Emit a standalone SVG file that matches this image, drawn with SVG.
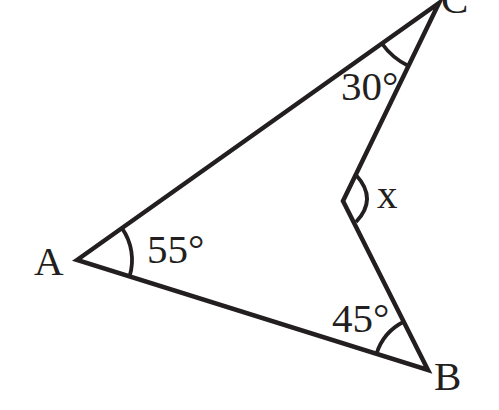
<svg xmlns="http://www.w3.org/2000/svg" width="499" height="410" viewBox="0 0 499 410">
<style>
.edge{fill:none;stroke:#231f20;stroke-width:4.5;stroke-linejoin:miter;stroke-miterlimit:20}
.arc{fill:none;stroke:#231f20;stroke-width:3.8}
.lbl{font-family:"Liberation Serif","Times New Roman",serif;font-size:41px;fill:#231f20}
</style>
<rect width="499" height="410" fill="#ffffff"/>
<g id="connectors">
<path class="edge" d="M77,260 L439,3 L343,201 L428,370 Z"/>
</g>
<g id="angle-A">
<path class="arc" d="M121.9,228.2 A55,55 0 0 1 129.5,276.5"/>
<text class="lbl" x="34" y="275">A</text>
<text class="lbl" x="147" y="263">55°</text>
</g>
<g id="angle-C">
<path class="arc" d="M381.9,43.5 A70,70 0 0 0 408.5,66"/>
<text class="lbl" x="441" y="13">C</text>
<text class="lbl" x="341" y="100">30°</text>
</g>
<g id="angle-D">
<path class="arc" d="M356,175 Q378,199 356,222"/>
<text class="lbl" x="377" y="208">x</text>
</g>
<g id="angle-B">
<path class="arc" d="M376.5,353.8 A54,54 0 0 1 403.7,321.8"/>
<text class="lbl" x="434" y="390">B</text>
<text class="lbl" x="332" y="332">45°</text>
</g>
</svg>
